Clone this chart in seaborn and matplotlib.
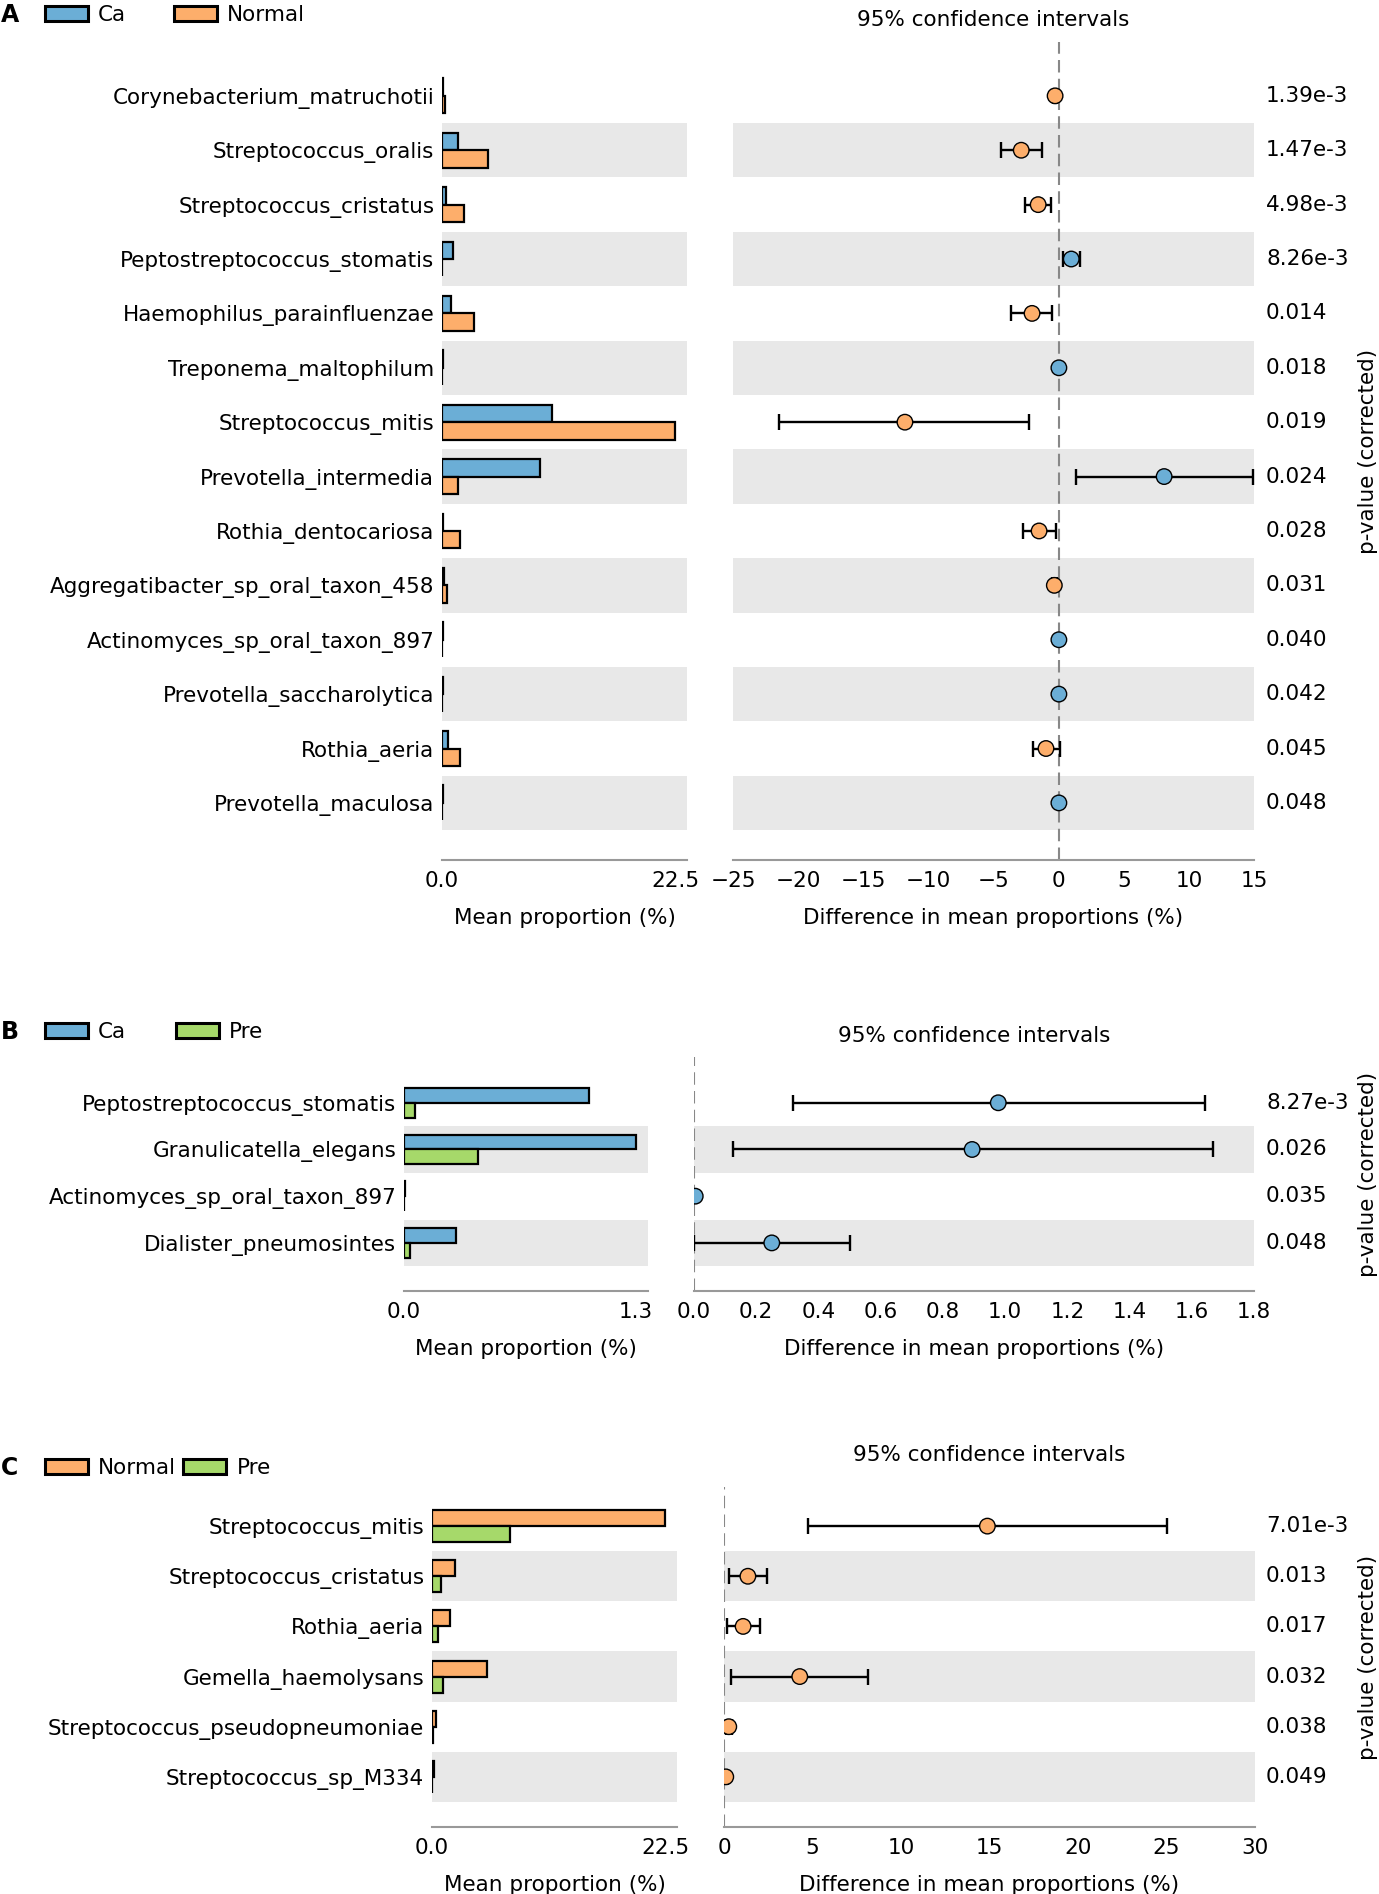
import numpy as np
import pandas as pd
import matplotlib
matplotlib.use('Agg')
import matplotlib.pyplot as plt
import matplotlib.transforms as mtransforms
from matplotlib.patches import Patch
import seaborn as sns

sns.set_style('white')
plt.rcParams['font.family'] = ['DejaVu Sans']
plt.rcParams['text.color'] = 'black'
plt.rcParams['axes.labelcolor'] = 'black'
plt.rcParams['xtick.labelcolor'] = 'black'
plt.rcParams['ytick.labelcolor'] = 'black'
FS = 15.5

BLUE = '#6baed6'
ORANGE = '#fdae6b'
GREEN = '#a6d96a'
BAND = '#e8e8e8'
AXGRAY = '#999999'

# ---- panel A: Ca vs Normal ----
a_taxa = ['Corynebacterium_matruchotii', 'Streptococcus_oralis', 'Streptococcus_cristatus',
          'Peptostreptococcus_stomatis', 'Haemophilus_parainfluenzae', 'Treponema_maltophilum',
          'Streptococcus_mitis', 'Prevotella_intermedia', 'Rothia_dentocariosa',
          'Aggregatibacter_sp_oral_taxon_458', 'Actinomyces_sp_oral_taxon_897',
          'Prevotella_saccharolytica', 'Rothia_aeria', 'Prevotella_maculosa']
a_ca = [0.05, 1.5, 0.4, 1.1, 0.9, 0.05, 10.6, 9.5, 0.1, 0.15, 0.05, 0.05, 0.6, 0.05]
a_normal = [0.3, 4.4, 2.1, 0.02, 3.1, 0.03, 22.5, 1.5, 1.7, 0.5, 0.03, 0.03, 1.7, 0.03]
a_diff = [-0.27, -2.87, -1.57, 0.97, -2.04, 0.02, -11.8, 8.1, -1.5, -0.33, 0.02, 0.02, -0.97, 0.02]
a_lo = [-0.4, -4.44, -2.57, 0.37, -3.64, 0.0, -21.5, 1.34, -2.77, -0.5, 0.0, 0.0, -1.94, 0.0]
a_hi = [-0.15, -1.27, -0.57, 1.67, -0.5, 0.04, -2.24, 14.9, -0.17, -0.15, 0.04, 0.04, 0.07, 0.04]
a_p = ['1.39e-3', '1.47e-3', '4.98e-3', '8.26e-3', '0.014', '0.018', '0.019', '0.024',
       '0.028', '0.031', '0.040', '0.042', '0.045', '0.048']

# ---- panel B: Ca vs Pre ----
b_taxa = ['Peptostreptococcus_stomatis', 'Granulicatella_elegans',
          'Actinomyces_sp_oral_taxon_897', 'Dialister_pneumosintes']
b_ca = [1.035, 1.30, 0.004, 0.289]
b_pre = [0.063, 0.417, 0.002, 0.035]
b_diff = [0.978, 0.894, 0.004, 0.25]
b_lo = [0.318, 0.124, 0.0, 0.0]
b_hi = [1.642, 1.667, 0.008, 0.502]
b_p = ['8.27e-3', '0.026', '0.035', '0.048']

# ---- panel C: Normal vs Pre ----
c_taxa = ['Streptococcus_mitis', 'Streptococcus_cristatus', 'Rothia_aeria',
          'Gemella_haemolysans', 'Streptococcus_pseudopneumoniae', 'Streptococcus_sp_M334']
c_normal = [22.5, 2.25, 1.73, 5.32, 0.43, 0.2]
c_pre = [7.57, 0.87, 0.6, 1.08, 0.05, 0.04]
c_diff = [14.88, 1.35, 1.08, 4.28, 0.27, 0.1]
c_lo = [4.75, 0.3, 0.17, 0.42, 0.1, 0.0]
c_hi = [25.03, 2.41, 2.02, 8.14, 0.45, 0.2]
c_p = ['7.01e-3', '0.013', '0.017', '0.032', '0.038', '0.049']

W, H = 1379, 1894
fig = plt.figure(figsize=(W / 100, H / 100), dpi=100)


def box(x0, x1, y_top, y_bot):
    return [x0 / W, 1 - y_bot / H, (x1 - x0) / W, (y_bot - y_top) / H]


def style_x(ax):
    for s in ['top', 'right', 'left']:
        ax.spines[s].set_visible(False)
    ax.spines['bottom'].set_color(AXGRAY)
    ax.spines['bottom'].set_linewidth(1.5)
    ax.tick_params(axis='x', direction='in', length=7, width=1.5, color=AXGRAY,
                   labelsize=FS, labelcolor='black', pad=8)


def num(t, fmt):
    return fmt.format(t).replace('-', '\u2212')


def panel(letter, taxa, g1, v1, c1, g2, v2, c2, diff, lo, hi, pvals,
          lbox, lxmax, ltick, rbox, rxlim, rticks, rfmt, ylim,
          y_legend, y_title, colspace):
    n = len(taxa)
    ypos = np.arange(n)

    # mean proportion bars
    axl = fig.add_axes(lbox)
    df = pd.DataFrame({'taxon': taxa * 2, 'value': list(v1) + list(v2),
                       'group': [g1] * n + [g2] * n})
    for i in range(1, n, 2):
        axl.axhspan(i - 0.5, i + 0.5, facecolor=BAND, lw=0, zorder=0)
    sns.barplot(data=df, x='value', y='taxon', hue='group', order=taxa,
                hue_order=[g1, g2], palette=[c1, c2], orient='h', width=0.64,
                saturation=1, edgecolor='black', linewidth=1.6, legend=False, ax=axl)
    axl.set_xlim(0, lxmax)
    axl.set_ylim(*ylim)
    axl.set_xticks([0, ltick])
    axl.set_xticklabels(['0.0', f'{ltick:.1f}'])
    axl.set_ylabel('')
    axl.set_xlabel('Mean proportion (%)', fontsize=FS, labelpad=12)
    axl.tick_params(axis='y', length=0, labelsize=FS, labelcolor='black', pad=5.5)
    style_x(axl)

    # confidence intervals
    axr = fig.add_axes(rbox)
    for i in range(1, n, 2):
        axr.axhspan(i - 0.5, i + 0.5, facecolor=BAND, lw=0, zorder=0)
    axr.axvline(0, color='#888888', lw=1.5, linestyle=(0, (6, 3)), zorder=1)
    diff = np.array(diff)
    axr.errorbar(diff, ypos, xerr=[diff - np.array(lo), np.array(hi) - diff], fmt='none',
                 ecolor='black', elinewidth=1.7, capsize=5.5, capthick=1.7, zorder=2)
    side = [g1 if d > 0 else g2 for d in diff]
    sns.scatterplot(x=diff, y=ypos, hue=side, palette={g1: c1, g2: c2}, s=125,
                    edgecolor='black', linewidth=1, legend=False, zorder=3, ax=axr)
    axr.set_xlim(*rxlim)
    axr.set_ylim(*ylim)
    axr.set_xticks(rticks)
    axr.set_xticklabels([num(t, rfmt) for t in rticks])
    axr.set_yticks([])
    axr.set_xlabel('Difference in mean proportions (%)', fontsize=FS, labelpad=12)
    style_x(axr)

    trans = mtransforms.blended_transform_factory(fig.transFigure, axr.transData)
    for y, p in zip(ypos, pvals):
        axr.text(1266 / W, y, p, transform=trans, ha='left', va='center', fontsize=FS)
    fig.text(1368 / W, rbox[1] + rbox[3] / 2, 'p-value (corrected)', rotation=90,
             ha='center', va='center', fontsize=FS)
    fig.text(rbox[0] + rbox[2] / 2, 1 - y_title / H, '95% confidence intervals',
             ha='center', va='center', fontsize=FS)

    fig.text(1 / W, 1 - y_legend / H, letter, fontsize=17, fontweight='bold',
             ha='left', va='center')
    handles = [Patch(facecolor=c1, edgecolor='black', linewidth=2.2),
               Patch(facecolor=c2, edgecolor='black', linewidth=2.2)]
    fig.legend(handles, [g1, g2], loc='center left', bbox_to_anchor=(45 / W, 1 - y_legend / H),
               ncol=2, frameon=False, borderpad=0, borderaxespad=0, handlelength=2.0,
               handleheight=0.74, handletextpad=0.47, columnspacing=colspace, fontsize=FS)


panel('A', a_taxa, 'Ca', a_ca, BLUE, 'Normal', a_normal, ORANGE, a_diff, a_lo, a_hi, a_p,
      box(442, 687, 42, 860), 23.66, 22.5,
      box(733, 1254, 42, 860), (-25, 15), list(range(-25, 16, 5)), '{:d}',
      (14.05, -0.99), 15, 20, 2.2)

panel('B', b_taxa, 'Ca', b_ca, BLUE, 'Pre', b_pre, GREEN, b_diff, b_lo, b_hi, b_p,
      box(404, 648, 1057, 1291), 1.367, 1.3,
      box(694, 1254, 1057, 1291), (0, 1.8), [round(0.2 * k, 1) for k in range(10)], '{:.1f}',
      (4.03, -0.98), 1032, 1036, 2.3)

panel('C', c_taxa, 'Normal', c_normal, ORANGE, 'Pre', c_pre, GREEN, c_diff, c_lo, c_hi, c_p,
      box(432, 677, 1487, 1827), 23.66, 22.5,
      box(724, 1255, 1487, 1827), (0, 30), list(range(0, 31, 5)), '{:d}',
      (6.0, -0.78), 1468, 1455, 0.33)

fig.savefig('out.png', dpi=100)
